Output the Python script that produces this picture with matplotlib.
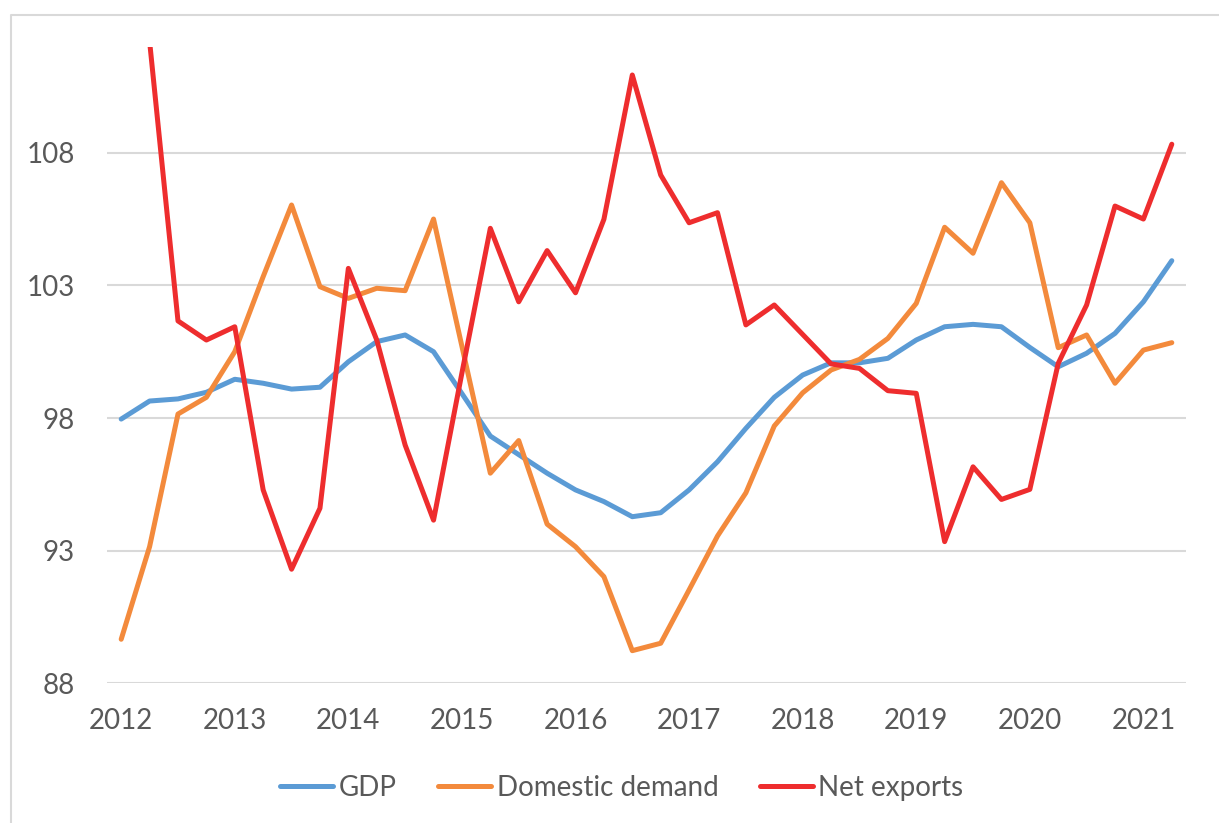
import matplotlib
matplotlib.use("Agg")
import matplotlib.pyplot as plt
from matplotlib.lines import Line2D

# ---- data (quarterly, 2012Q1 .. 2021Q2) ----
years = ["2012", "2013", "2014", "2015", "2016", "2017", "2018", "2019", "2020", "2021"]

gdp = [97.96, 98.64, 98.72, 98.97, 99.46, 99.31, 99.09, 99.16, 100.12, 100.88,
       101.13, 100.50, 98.92, 97.32, 96.62, 95.92, 95.29, 94.85, 94.28, 94.43,
       95.29, 96.35, 97.61, 98.78, 99.62, 100.08, 100.08, 100.25, 100.94, 101.44,
       101.53, 101.44, 100.66, 99.93, 100.44, 101.19, 102.38, 103.93]

domestic_demand = [89.66, 93.15, 98.15, 98.78, 100.50, 103.33, 106.03, 102.95, 102.51, 102.89,
                   102.80, 105.50, 100.70, 95.92, 97.15, 94.00, 93.15, 92.02, 89.23, 89.51,
                   91.52, 93.55, 95.18, 97.70, 98.95, 99.81, 100.21, 101.00, 102.32, 105.19,
                   104.21, 106.87, 105.36, 100.65, 101.13, 99.31, 100.56, 100.84]

net_exports = [116.0, 112.2, 101.66, 100.94, 101.44, 95.29, 92.30, 94.60, 103.64, 100.94,
               96.98, 94.15, 99.70, 105.15, 102.38, 104.31, 102.72, 105.49, 110.93, 107.16,
               105.36, 105.74, 101.51, 102.26, 101.15, 100.04, 99.87, 99.03, 98.93, 93.34,
               96.16, 94.93, 95.31, 100.06, 102.26, 105.99, 105.50, 108.32]

series_names = ["GDP", "Domestic demand", "Net exports"]
colors = ["#5B9BD5", "#F38A3C", "#EE2D2E"]

y_ticks = [88, 93, 98, 103, 108]

plt.rcParams['font.family'] = ['Lato', 'DejaVu Sans']

W, H = 1219, 823
fig = plt.figure(figsize=(W / 100, H / 100), dpi=100)
fig.patch.set_facecolor("white")

left, right = 107 / W, 1186 / W
bottom, top = 1 - 683.3 / H, 1 - 46.6 / H
ax = fig.add_axes([left, bottom, right - left, top - bottom])

x = list(range(len(gdp)))
lw = 3.6
for data, name, c in zip([gdp, domestic_demand, net_exports], series_names, colors):
    ax.plot(x, data, color=c, lw=lw, label=name, solid_joinstyle="round",
            solid_capstyle="round", clip_on=True)

ax.set_xlim(-0.5, len(gdp) - 0.5)
ax.set_ylim(88, 112)
ax.set_yticks(y_ticks)
ax.set_yticklabels([str(v) for v in y_ticks])
ax.set_xticks([4 * i for i in range(len(years))])
ax.set_xticklabels(years)

ax.grid(axis="y", color="#D9D9D9", lw=1.5)
ax.set_axisbelow(True)
for s in ax.spines.values():
    s.set_visible(False)
ax.tick_params(axis="both", length=0, labelsize=20, labelcolor="#595959")
ax.tick_params(axis="y", pad=23)
ax.tick_params(axis="x", pad=18)

handles = [Line2D([0], [0], color=c, lw=lw, solid_capstyle="round") for c in colors]
fig.legend(handles, series_names, loc="center", bbox_to_anchor=(622 / W, 1 - 788 / H),
           ncol=3, frameon=False, fontsize=20, labelcolor="#595959",
           handlelength=1.9, handletextpad=0.2, columnspacing=1.5)

# outer chart frame (left and top edges visible)
fig.add_artist(Line2D([11 / W, 11 / W, 1.0], [0.0, 1 - 15 / H, 1 - 15 / H],
                      transform=fig.transFigure, color="#D9D9D9", lw=1.5))

fig.savefig("out.png", dpi=100, facecolor="white")
